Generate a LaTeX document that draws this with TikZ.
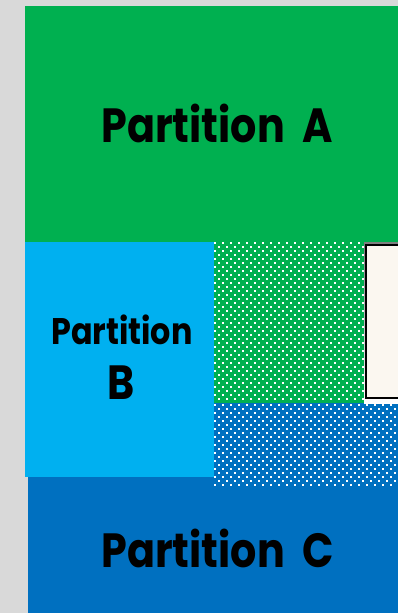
\documentclass[tikz,border=0pt]{standalone}
\usepackage{graphicx}
\usepackage{fontspec}
\newfontfamily\labelfont{Poppins}[UprightFont=* Bold]
\definecolor{bggray}{HTML}{D9D9D9}
\definecolor{pgreen}{HTML}{00B050}
\definecolor{plblue}{HTML}{00B0F0}
\definecolor{pblue}{HTML}{0070C0}
\definecolor{cream}{HTML}{FBF7F0}
\definecolor{shade}{HTML}{C8C8C8}
\begin{document}
\begin{tikzpicture}[x=1pt,y=-1pt,
  lbl/.style={font=\labelfont, text=black, inner sep=0pt, anchor=base},
  dot/.style={fill=white}]
\useasboundingbox (0,0) rectangle (398,613);
\fill[bggray] (0,0) rectangle (398,613);
% Partition A
\fill[pgreen] (25,6) rectangle (398,242);
% Partition B
\fill[plblue] (25,242) rectangle (214,477);
% Partition C
\fill[pblue] (28,477) rectangle (398,613);
% dotted green overlap
\fill[pgreen] (214,242) rectangle (398,403);
\foreach \r in {0,...,39}{
  \pgfmathsetmacro\yy{242.5+4*\r}
  \pgfmathsetmacro\xo{mod(\r,2)*4}
  \foreach \k in {0,...,18}{
    \fill[dot] ({215+\xo+8*\k-1},{\yy-1}) rectangle ++(2,2);
  }
}
% dotted blue overlap
\fill[pblue] (214,403) rectangle (398,487);
\foreach \r in {0,...,20}{
  \pgfmathsetmacro\yy{405+4*\r}
  \pgfmathsetmacro\xo{mod(\r,2)*4}
  \foreach \k in {0,...,22}{
    \fill[dot] ({215+\xo+8*\k-1},{\yy-1}) rectangle ++(2,2);
  }
}
% cream box
\fill[shade] (364,242.5) rectangle (398,403);
\fill[black] (365,244) rectangle (398,398.5);
\fill[cream] (367,246) rectangle (398,396.5);
% labels
\node[lbl, font=\labelfont\fontsize{48}{48}\selectfont] (labelA) at (217,142) {\scalebox{0.86}[1]{Partition\hspace{20pt}A}};
\node[lbl, font=\labelfont\fontsize{37}{37}\selectfont] (labelB1) at (122,344) {\scalebox{0.86}[1]{Partition}};
\node[lbl, font=\labelfont\fontsize{48}{48}\selectfont] (labelB2) at (121.5,399) {\scalebox{0.86}[1]{B}};
\node[lbl, font=\labelfont\fontsize{48}{48}\selectfont] (labelC) at (217.5,567) {\scalebox{0.86}[1]{Partition\hspace{20pt}C}};
\end{tikzpicture}
\end{document}
